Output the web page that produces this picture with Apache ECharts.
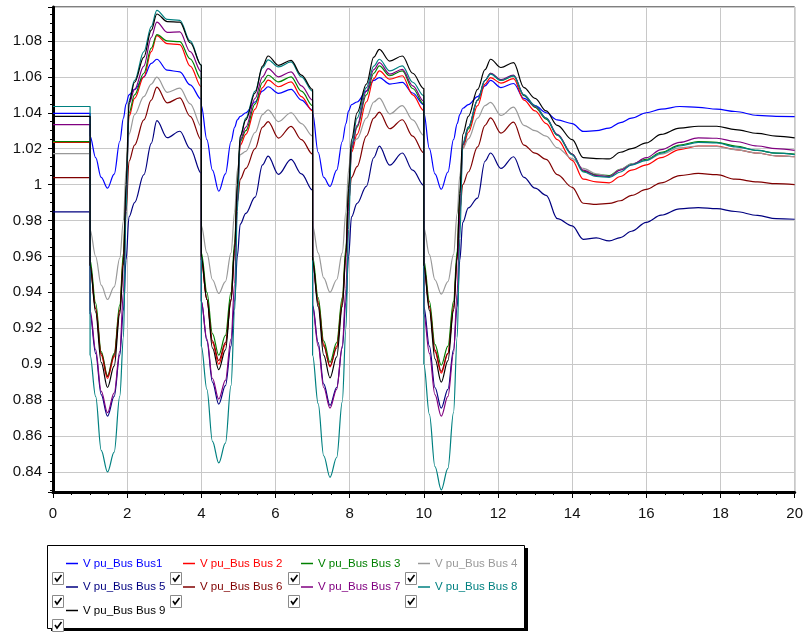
<!DOCTYPE html>
<html>
<head>
<meta charset="utf-8">
<script src="https://cdn.jsdelivr.net/npm/echarts@6/dist/echarts.min.js"></script>
<style>html,body{margin:0;padding:0;background:#fff;}#c{width:806px;height:640px;}</style>
</head>
<body>
<div id="c"></div>
<script>
// time axis (s); repeated times mark the vertical steps
const times = [
 0, 1,
 1, 1.15, 1.3, 1.47, 1.65, 1.8, 1.9, 1.97, 2.05, 2.2, 2.45, 2.65, 2.8, 3.08, 3.42, 3.7, 4,
 4, 4.15, 4.3, 4.47, 4.65, 4.8, 4.9, 4.97, 5.05, 5.2, 5.45, 5.65, 5.8, 6.08, 6.42, 6.7, 7,
 7, 7.15, 7.3, 7.47, 7.65, 7.8, 7.9, 7.97, 8.05, 8.2, 8.45, 8.65, 8.8, 9.08, 9.42, 9.7, 10,
 10, 10.15, 10.3, 10.47, 10.65, 10.8, 10.9, 10.97, 11.05, 11.2, 11.45, 11.65, 11.8, 12.08, 12.42,
 12.7, 13, 13.3, 13.6, 14, 14.3, 14.65, 15, 15.3, 15.6, 16, 16.4, 16.9, 17.4, 17.9, 18.4, 19, 19.5, 20
];

const bus1 = [1.0397, 1.0397,
 1.027, 1.015, 1.004, 0.998, 1.0058, 1.024, 1.037, 1.045, 1.050, 1.053, 1.060, 1.0675, 1.0698, 1.0637, 1.0628, 1.0555, 1.0475,
 1.044, 1.025, 1.008, 0.9963, 1.006, 1.024, 1.032, 1.036, 1.038, 1.040, 1.046, 1.052, 1.0545, 1.0508, 1.053, 1.047, 1.0415,
 1.040, 1.018, 1.004, 0.999, 1.008, 1.024, 1.034, 1.041, 1.0445, 1.046, 1.052, 1.058, 1.0596, 1.056, 1.0569, 1.051, 1.0445,
 1.040, 1.020, 1.006, 0.9974, 1.007, 1.025, 1.034, 1.039, 1.0425, 1.0445, 1.049, 1.055, 1.058, 1.054, 1.0563,
 1.048, 1.044, 1.040, 1.036, 1.034, 1.0296, 1.030, 1.0315, 1.0345, 1.037, 1.040, 1.042, 1.0435, 1.043, 1.042, 1.0407, 1.0385, 1.038, 1.0379];

const bus2 = [1.0235, 1.0235,
 0.955, 0.931, 0.905, 0.892, 0.904, 0.930, 0.960, 0.998, 1.038, 1.048, 1.060, 1.074, 1.083, 1.0785, 1.078, 1.066, 1.0545,
 0.958, 0.936, 0.912, 0.900, 0.911, 0.936, 0.965, 0.998, 1.022, 1.028, 1.042, 1.054, 1.0582, 1.0545, 1.0572, 1.049, 1.041,
 0.957, 0.935, 0.911, 0.8985, 0.910, 0.935, 0.963, 0.995, 1.018, 1.028, 1.046, 1.059, 1.0633, 1.0587, 1.0606, 1.050, 1.0412,
 0.955, 0.932, 0.907, 0.895, 0.906, 0.932, 0.960, 0.993, 1.020, 1.029, 1.044, 1.056, 1.0596, 1.0565, 1.059,
 1.047, 1.041, 1.034, 1.025, 1.0135, 1.003, 1.0015, 1.001, 1.0045, 1.008, 1.011, 1.015, 1.0195, 1.0215, 1.0215, 1.0195, 1.0175, 1.016, 1.0155];

const bus3 = [1.0239, 1.0239,
 0.958, 0.934, 0.907, 0.8936, 0.906, 0.933, 0.962, 1.000, 1.040, 1.050, 1.062, 1.076, 1.0835, 1.080, 1.0796, 1.070, 1.0587,
 0.962, 0.940, 0.917, 0.905, 0.916, 0.940, 0.968, 1.000, 1.024, 1.030, 1.045, 1.057, 1.0609, 1.0572, 1.060, 1.052, 1.044,
 0.960, 0.937, 0.913, 0.901, 0.912, 0.937, 0.965, 0.998, 1.020, 1.032, 1.050, 1.062, 1.0661, 1.0606, 1.0633, 1.0535, 1.0449,
 0.958, 0.935, 0.911, 0.8994, 0.910, 0.935, 0.963, 0.995, 1.022, 1.031, 1.047, 1.058, 1.062, 1.058, 1.0605,
 1.0495, 1.043, 1.0365, 1.0275, 1.017, 1.0075, 1.0055, 1.005, 1.0085, 1.0115, 1.014, 1.018, 1.022, 1.024, 1.0235, 1.0215, 1.019, 1.0175, 1.017];

const bus4 = [1.0172, 1.0172,
 0.975, 0.960, 0.944, 0.936, 0.943, 0.959, 0.980, 1.008, 1.028, 1.039, 1.049, 1.056, 1.0598, 1.0514, 1.0537, 1.045, 1.0323,
 0.977, 0.962, 0.947, 0.9394, 0.946, 0.962, 0.985, 1.008, 1.0167, 1.0185, 1.029, 1.039, 1.0416, 1.0351, 1.040, 1.034, 1.027,
 0.977, 0.962, 0.948, 0.940, 0.947, 0.962, 0.985, 1.008, 1.023, 1.0255, 1.037, 1.046, 1.0482, 1.0394, 1.044, 1.036, 1.0274,
 0.976, 0.961, 0.947, 0.939, 0.946, 0.961, 0.984, 1.005, 1.020, 1.0255, 1.037, 1.044, 1.0458, 1.0385, 1.0431,
 1.033, 1.030, 1.027, 1.0205, 1.0145, 1.009, 1.006, 1.0045, 1.0085, 1.0115, 1.0135, 1.017, 1.0205, 1.0215, 1.0212, 1.0195, 1.0175, 1.016, 1.0155];

const bus5 = [0.9848, 0.9848,
 0.928, 0.906, 0.883, 0.871, 0.882, 0.905, 0.930, 0.958, 0.982, 0.990, 1.0055, 1.023, 1.0356, 1.0261, 1.0297, 1.020, 1.0063,
 0.935, 0.913, 0.890, 0.8777, 0.888, 0.910, 0.935, 0.960, 0.978, 0.984, 0.993, 1.011, 1.0158, 1.0057, 1.014, 1.006, 0.997,
 0.933, 0.912, 0.889, 0.877, 0.887, 0.909, 0.935, 0.960, 0.982, 0.9895, 0.999, 1.015, 1.0214, 1.0108, 1.0176, 1.008, 0.9995,
 0.932, 0.910, 0.887, 0.8755, 0.886, 0.908, 0.932, 0.958, 0.979, 0.987, 0.9925, 1.013, 1.0176, 1.009, 1.0155,
 1.004, 0.998, 0.994, 0.981, 0.977, 0.9695, 0.9703, 0.9686, 0.9705, 0.974, 0.979, 0.983, 0.9865, 0.9872, 0.9866, 0.985, 0.9828, 0.981, 0.9807];

const bus6 = [1.0039, 1.0039,
 0.955, 0.931, 0.906, 0.893, 0.905, 0.930, 0.958, 0.985, 1.013, 1.022, 1.036, 1.047, 1.0543, 1.0455, 1.0483, 1.038, 1.0249,
 0.958, 0.936, 0.913, 0.902, 0.912, 0.935, 0.962, 0.990, 1.003, 1.009, 1.020, 1.032, 1.0351, 1.0259, 1.0324, 1.025, 1.017,
 0.957, 0.934, 0.910, 0.899, 0.909, 0.933, 0.960, 0.990, 1.004, 1.010, 1.027, 1.037, 1.0403, 1.0311, 1.0361, 1.027, 1.0176,
 0.955, 0.932, 0.908, 0.896, 0.906, 0.930, 0.958, 0.985, 1.000, 1.007, 1.021, 1.033, 1.0372, 1.0287, 1.0348,
 1.022, 1.0175, 1.014, 1.0055, 0.9985, 0.9896, 0.989, 0.9895, 0.991, 0.994, 0.9973, 1.001, 1.005, 1.0062, 1.0055, 1.003, 1.0015, 1.0005, 1.0];

const bus7 = [1.0334, 1.0334,
 0.930, 0.908, 0.885, 0.873, 0.884, 0.907, 0.940, 0.990, 1.045, 1.053, 1.066, 1.082, 1.0905, 1.0848, 1.085, 1.074, 1.0629,
 0.935, 0.914, 0.892, 0.8805, 0.891, 0.914, 0.945, 0.990, 1.025, 1.032, 1.048, 1.060, 1.0646, 1.060, 1.0628, 1.055, 1.047,
 0.932, 0.910, 0.887, 0.8755, 0.886, 0.910, 0.942, 0.985, 1.020, 1.033, 1.052, 1.064, 1.0679, 1.0615, 1.0642, 1.055, 1.0464,
 0.928, 0.906, 0.883, 0.871, 0.882, 0.906, 0.940, 0.982, 1.022, 1.032, 1.047, 1.058, 1.062, 1.0585, 1.061,
 1.050, 1.0435, 1.037, 1.028, 1.017, 1.008, 1.005, 1.0045, 1.008, 1.011, 1.015, 1.0195, 1.0235, 1.026, 1.0258, 1.024, 1.0215, 1.020, 1.0191];

const bus8 = [1.0435, 1.0435,
 0.905, 0.882, 0.852, 0.840, 0.851, 0.882, 0.915, 0.985, 1.047, 1.058, 1.074, 1.088, 1.097, 1.092, 1.0915, 1.080, 1.0665,
 0.910, 0.886, 0.857, 0.845, 0.856, 0.888, 0.930, 0.985, 1.027, 1.037, 1.052, 1.065, 1.0695, 1.0655, 1.0683, 1.060, 1.052,
 0.905, 0.878, 0.849, 0.837, 0.848, 0.879, 0.920, 0.975, 1.022, 1.037, 1.054, 1.066, 1.0698, 1.0633, 1.0661, 1.057, 1.0495,
 0.900, 0.872, 0.843, 0.830, 0.842, 0.873, 0.915, 0.970, 1.023, 1.032, 1.047, 1.058, 1.0615, 1.058, 1.0605,
 1.050, 1.044, 1.037, 1.0275, 1.0165, 1.007, 1.0045, 1.004, 1.007, 1.011, 1.0135, 1.0175, 1.0215, 1.0235, 1.0232, 1.021, 1.019, 1.0175, 1.0167];

const bus9 = [1.038, 1.038,
 0.955, 0.929, 0.901, 0.887, 0.899, 0.928, 0.955, 1.000, 1.046, 1.057, 1.071, 1.086, 1.095, 1.0908, 1.0905, 1.079, 1.0665,
 0.960, 0.936, 0.909, 0.897, 0.908, 0.936, 0.965, 1.000, 1.027, 1.036, 1.051, 1.066, 1.0716, 1.0664, 1.0692, 1.061, 1.053,
 0.958, 0.932, 0.905, 0.8924, 0.904, 0.932, 0.962, 0.998, 1.025, 1.040, 1.056, 1.071, 1.0753, 1.0688, 1.0716, 1.062, 1.0535,
 0.955, 0.930, 0.903, 0.890, 0.902, 0.930, 0.960, 0.995, 1.028, 1.038, 1.053, 1.064, 1.0698, 1.0652, 1.0679,
 1.054, 1.048, 1.041, 1.033, 1.025, 1.015, 1.0145, 1.0143, 1.018, 1.020, 1.0232, 1.028, 1.0315, 1.0325, 1.0325, 1.0306, 1.0285, 1.027, 1.026];

const seriesNames = ['V pu_Bus Bus1', 'V pu_Bus Bus 2', 'V pu_Bus Bus 3', 'V pu_Bus Bus 4',
  'V pu_Bus Bus 5', 'V pu_Bus Bus 6', 'V pu_Bus Bus 7', 'V pu_Bus Bus 8', 'V pu_Bus Bus 9'];
const seriesValues = [bus1, bus2, bus3, bus4, bus5, bus6, bus7, bus8, bus9];
const seriesColors = ['#0000ff', '#ff0000', '#008000', '#999999', '#000080', '#800000', '#800080', '#008080', '#000000'];

const xTicks = { min: 0, max: 20, step: 2 };
const yRange = { min: 0.8288, max: 1.0989, step: 0.02 };

const legendColumns = [[0, 4, 8], [1, 5], [2, 6], [3, 7]];
const legendLefts = [66, 183, 301, 418];
const checkCols = [52, 170, 288, 405];
const checkRows = [572, 595, 619];

const FONT = 'Liberation Sans, Arial, sans-serif';

const chart = echarts.init(document.getElementById('c'), null, { renderer: 'canvas' });

const series = seriesNames.map((name, k) => ({
  name: name,
  type: 'line',
  data: times.map((t, i) => [t, seriesValues[k][i]]),
  symbol: 'none',
  showSymbol: false,
  smooth: 0.35,
  smoothMonotone: 'x',
  lineStyle: { width: 1.2, color: seriesColors[k] },
  itemStyle: { color: seriesColors[k] },
  emphasis: { disabled: true },
  z: 2 + k * 0.01
}));

const legends = legendColumns.map((col, ci) => ({
  orient: 'vertical',
  left: legendLefts[ci],
  top: 555.5,
  itemWidth: 12,
  itemHeight: 1.5,
  itemGap: 7.5,
  icon: 'rect',
  selectedMode: false,
  padding: 0,
  textStyle: { fontSize: 11.5, fontFamily: FONT, lineHeight: 16 },
  data: col.map(k => ({ name: seriesNames[k], textStyle: { color: seriesColors[k] } }))
}));

const graphics = [
  { type: 'rect', shape: { x: 51, y: 548, width: 477, height: 83 }, style: { fill: '#000' }, silent: true },
  { type: 'rect', shape: { x: 47.5, y: 545.5, width: 477, height: 83 }, style: { fill: '#fff', stroke: '#000', lineWidth: 1 }, silent: true }
];
const boxes = [];
checkRows.forEach((ry, ri) => {
  checkCols.forEach((cx, ci) => {
    if (ri === 2 && ci > 0) return;
    boxes.push([cx, ry]);
  });
});
boxes.forEach(([bx, by]) => {
  graphics.push({ type: 'rect', shape: { x: bx + 0.5, y: by + 0.5, width: 11, height: 12 }, style: { fill: '#fff', stroke: '#8a8a8a', lineWidth: 1 }, silent: true });
  graphics.push({ type: 'polyline', shape: { points: [[bx + 3, by + 6], [bx + 5, by + 9], [bx + 9.5, by + 3]] }, style: { stroke: '#000', lineWidth: 1.6, fill: null }, silent: true });
});

chart.setOption({
  animation: false,
  backgroundColor: '#fff',
  grid: { left: 53, right: 6, top: 7, bottom: 148, show: true, borderColor: '#000', borderWidth: 1, backgroundColor: 'transparent' },
  xAxis: {
    type: 'value', min: xTicks.min, max: xTicks.max, interval: xTicks.step,
    axisLine: { show: true, onZero: false, lineStyle: { color: '#000', width: 3 } },
    axisTick: { show: true, length: 6, lineStyle: { color: '#000', width: 1 } },
    minorTick: { show: true, splitNumber: 4, length: 3, lineStyle: { color: '#000', width: 1 } },
    splitLine: { show: true, lineStyle: { color: '#c8c8c8', width: 1 } },
    axisLabel: { color: '#111', fontSize: 15, fontFamily: FONT, margin: 14 }
  },
  yAxis: {
    type: 'value', min: yRange.min, max: yRange.max, splitNumber: 13,
    minInterval: yRange.step, maxInterval: yRange.step,
    axisLine: { show: true, onZero: false, lineStyle: { color: '#000', width: 3 } },
    axisTick: { show: true, length: 5, lineStyle: { color: '#000', width: 1 } },
    minorTick: { show: true, splitNumber: 4, length: 3, lineStyle: { color: '#000', width: 1 } },
    splitLine: { show: true, lineStyle: { color: '#c8c8c8', width: 1 } },
    axisLabel: { color: '#111', fontSize: 15, fontFamily: FONT, margin: 11, showMinLabel: false, showMaxLabel: false }
  },
  legend: legends,
  graphic: { elements: graphics },
  series: series
});
</script>
</body>
</html>
